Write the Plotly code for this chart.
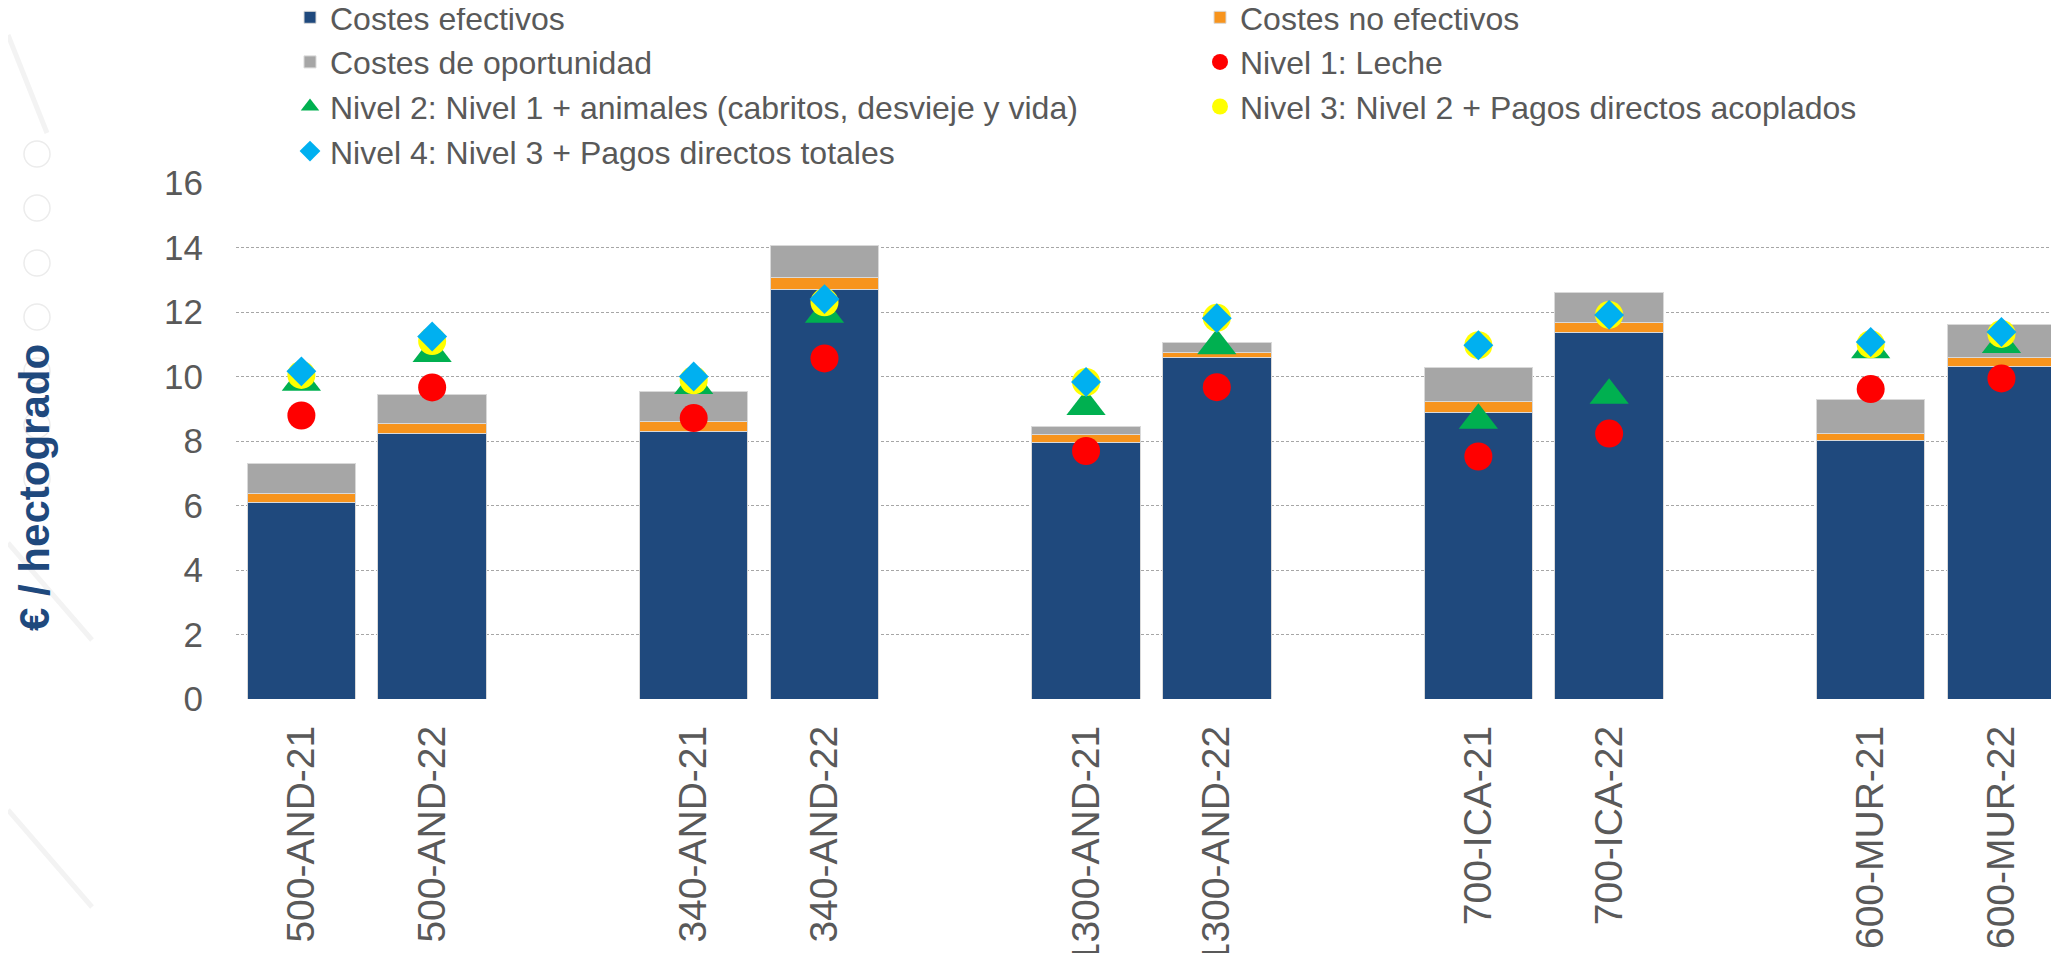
import plotly.graph_objects as go

# ---------------- data ----------------
categories = ["500-AND-21", "500-AND-22", "340-AND-21", "340-AND-22",
              "1300-AND-21", "1300-AND-22", "700-ICA-21", "700-ICA-22",
              "600-MUR-21", "600-MUR-22"]

costes_efectivos = [6.08, 8.24, 8.28, 12.71, 7.94, 10.59, 8.89, 11.37, 8.01, 10.30]
costes_no_efectivos = [0.28, 0.31, 0.33, 0.36, 0.25, 0.16, 0.32, 0.29, 0.22, 0.29]
costes_oportunidad = [0.94, 0.89, 0.94, 1.00, 0.25, 0.29, 1.06, 0.93, 1.06, 1.01]

nivel1 = [8.79, 9.66, 8.71, 10.56, 7.69, 9.67, 7.52, 8.23, 9.61, 9.94]
nivel2 = [9.82, 10.71, 9.72, 11.93, 9.07, 10.95, 8.64, 9.42, 10.83, 10.99]
nivel3 = [10.05, 11.10, 9.88, 12.30, 9.83, 11.82, 10.97, 11.91, 11.00, 11.32]
nivel4 = [10.16, 11.24, 10.00, 12.40, 9.83, 11.81, 10.97, 11.91, 11.07, 11.38]

y_ticks = [0, 2, 4, 6, 8, 10, 12, 14, 16]
y_title = "€ / hectogrado"

# two bars per farm, one empty slot between farms
x_pos = [i + i // 2 for i in range(len(categories))]

# ---------------- styling ----------------
FONT = "Arial, 'Liberation Sans', sans-serif"
TXT = "#595959"
PAGE_OFF = 8                      # default body margin of the html page
W, H = 2059 - PAGE_OFF, 953 - PAGE_OFF

fig = go.Figure()

bar_style = dict(marker_line=dict(color="#d9d9d9", width=1))
fig.add_trace(go.Bar(x=x_pos, y=costes_efectivos, name="Costes efectivos",
                     marker_color="#1F497D", **bar_style))
fig.add_trace(go.Bar(x=x_pos, y=costes_no_efectivos, name="Costes no efectivos",
                     marker_color="#F7941D", **bar_style))
fig.add_trace(go.Bar(x=x_pos, y=costes_oportunidad, name="Costes de oportunidad",
                     marker_color="#A6A6A6", **bar_style))

fig.add_trace(go.Scatter(x=x_pos, y=nivel1, mode="markers", name="Nivel 1: Leche",
                         marker=dict(symbol="circle", size=28, color="#FF0000")))
fig.add_trace(go.Scatter(x=x_pos, y=nivel2, mode="markers",
                         name="Nivel 2: Nivel 1 + animales (cabritos, desvieje y vida)",
                         marker=dict(symbol="triangle-up", size=34, color="#00B050")))
fig.add_trace(go.Scatter(x=x_pos, y=nivel3, mode="markers",
                         name="Nivel 3: Nivel 2 + Pagos directos acoplados",
                         marker=dict(symbol="circle", size=28, color="#FFFF00")))
fig.add_trace(go.Scatter(x=x_pos, y=nivel4, mode="markers",
                         name="Nivel 4: Nivel 3 + Pagos directos totales",
                         marker=dict(symbol="diamond", size=23, color="#00B0F0")))

# plot-area geometry (figure pixels)
L, T, B = 228, 175, 254
plot_w = W - L
plot_h = H - T - B


def px(page_x):
    return (page_x - PAGE_OFF - L) / plot_w


def py(page_y):
    return (H - B - (page_y - PAGE_OFF)) / plot_h


# faint decorative circles and strokes from the slide background
shapes = []
for cy in [154, 208, 263, 317, 371, 425, 479]:
    shapes.append(dict(type="circle", xref="paper", yref="paper",
                       xsizemode="pixel", ysizemode="pixel",
                       xanchor=px(37), yanchor=py(cy),
                       x0=-13, x1=13, y0=-13, y1=13,
                       line=dict(color="#ececec", width=1.5), layer="below"))
for (xa, ya, xb, yb) in [(8, 35, 47, 133), (8, 543, 92, 640), (8, 810, 92, 907)]:
    shapes.append(dict(type="line", xref="paper", yref="paper",
                       x0=px(xa), y0=py(ya), x1=px(xb), y1=py(yb),
                       line=dict(color="#f3f3f3", width=5), layer="below"))

fig.update_layout(
    width=W, height=H,
    margin=dict(l=L, r=0, t=T, b=B, pad=0, autoexpand=False),
    paper_bgcolor="white", plot_bgcolor="white",
    barmode="stack", bargap=0.17,
    font=dict(family=FONT, size=32, color=TXT),
    showlegend=True,
    legend=dict(orientation="h", xref="container", yref="paper",
                x=282 / W, y=1 + (T + 18) / plot_h, xanchor="left", yanchor="top",
                entrywidth=865, entrywidthmode="pixels",
                font=dict(family=FONT, size=32, color=TXT),
                traceorder="normal", itemsizing="trace",
                bgcolor="rgba(0,0,0,0)", tracegroupgap=0),
    shapes=shapes,
    annotations=[dict(text="<b>" + y_title + "</b>", textangle=-90,
                      xref="paper", yref="paper", x=px(35), y=py(488),
                      xanchor="center", yanchor="middle", showarrow=False,
                      font=dict(family=FONT, size=42, color="#1F497D"))],
    xaxis=dict(range=[-0.5, 13.44], tickmode="array", tickvals=x_pos,
               ticktext=categories, tickangle=-90, showgrid=False,
               zeroline=False, showline=False, ticks="", automargin=False,
               ticklabelstandoff=18,
               tickfont=dict(family=FONT, size=39, color=TXT)),
    yaxis=dict(range=[0, 16], tickmode="array", tickvals=y_ticks,
               showgrid=True, gridcolor="#A6A6A6", gridwidth=1, griddash="3px,2px",
               zeroline=False, showline=False, ticks="", automargin=False,
               ticklabelstandoff=32,
               tickfont=dict(family=FONT, size=35, color=TXT)),
)

fig.write_html("out.html")
